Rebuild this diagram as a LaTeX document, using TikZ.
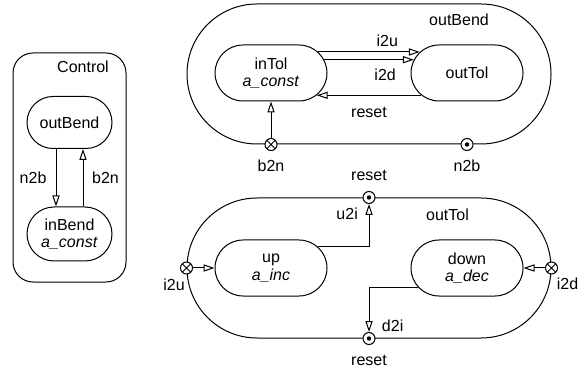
\documentclass[tikz,border=0pt]{standalone}
\usepackage{fontspec}
\setmainfont{Liberation Sans}
\usetikzlibrary{shapes.misc,arrows.meta,positioning}
\tikzset{
  state/.style={draw, rounded rectangle, inner sep=0pt, align=center,
    minimum width=56pt, minimum height=28pt},
  superstate/.style={draw, rounded rectangle, inner sep=0pt,
    minimum width=182pt, minimum height=70pt},
  junction/.style={draw, circle, fill=white, inner sep=0pt, minimum size=6pt},
  xjunc/.style={junction, path picture={
    \draw (path picture bounding box.north west) -- (path picture bounding box.south east)
          (path picture bounding box.north east) -- (path picture bounding box.south west);}},
  ojunc/.style={junction, path picture={
    \fill[black] (path picture bounding box.center) circle (1.1pt);}},
  trans/.style={-{Triangle[open, length=5.5pt, width=3.6pt]}},
}
\begin{document}
\begin{tikzpicture}[x=0.5pt, y=-0.5pt, line width=0.5pt,
    every node/.style={font=\fontsize{8}{8.7}\selectfont}]
\useasboundingbox (0,0) rectangle (581,367);

% Control
\node[draw, rounded corners=10pt, minimum width=56.5pt, minimum height=114.5pt] (ctrl) at (69.5,167.5) {};
\node (ctrlLbl) at (83,67) {Control};
\node[state, minimum width=42.5pt, minimum height=26pt] (outB) at (69.5,122.5) {outBend};
\node[state, minimum width=42.5pt, minimum height=27pt] (inB) at (69.5,234) {inBend\\\textit{a\_const}};
\draw[trans] ([xshift=-6.75pt]outB.south) -- ([xshift=-6.75pt]inB.north) node[midway, left=1.2pt] {n2b};
\draw[trans] ([xshift=6.75pt]inB.north) -- ([xshift=6.75pt]outB.south) node[midway, right=1pt] {b2n};

% outBend superstate
\node[superstate] (bendSup) at (369,74) {};
\node (bendLbl) at (459,20) {outBend};
\node[state] (inTol) at (271,73) {inTol\\\textit{a\_const}};
\node[state] (outTol) at (467,73) {outTol};
\draw[trans] (inTol.24) -- (outTol.156) node[pos=0.68, above=-0.7pt] {i2u};
\draw[trans] (inTol.14) -- (outTol.166) node[pos=0.68, below=1.1pt] {i2d};
\draw[trans] (outTol.-154) -- (inTol.-26) node[midway, below=2.2pt] {reset};
\node[xjunc] (b2nJ) at (bendSup.south -| inTol) {};
\node[ojunc] (n2bJ) at (bendSup.south -| outTol) {};
\node[below=1.1pt of b2nJ] (b2nLbl) {b2n};
\node[below=1.1pt of n2bJ] (n2bLbl) {n2b};
\draw[trans] (b2nJ) -- (inTol.south);

% outTol superstate
\node[superstate] (tolSup) at (369,268) {};
\node (tolLbl) at (447.5,215) {outTol};
\node[state] (up) at (271,268) {up\\\textit{a\_inc}};
\node[state] (down) at (467,268) {down\\\textit{a\_dec}};
\node[ojunc] (rstTop) at (tolSup.north) {};
\node[ojunc] (rstBot) at (tolSup.south) {};
\node[xjunc] (i2uJ) at (tolSup.west) {};
\node[xjunc] (i2dJ) at (tolSup.east) {};
\node[above=1.4pt of rstTop] (rstTopLbl) {reset};
\node[below=1.4pt of rstBot] (rstBotLbl) {reset};
\node (i2uLbl) at (174,285) {i2u};
\node (i2dLbl) at (567.5,284) {i2d};
\draw[trans] (i2uJ) -- (up.west);
\draw[trans] (i2dJ) -- (down.east);
\draw[trans] (up.24) -| (rstTop) node[pos=0.89, left=2pt] {u2i};
\draw[trans] (down.202) -| (rstBot) node[pos=0.93, right=2.9pt] {d2i};
\end{tikzpicture}
\end{document}
